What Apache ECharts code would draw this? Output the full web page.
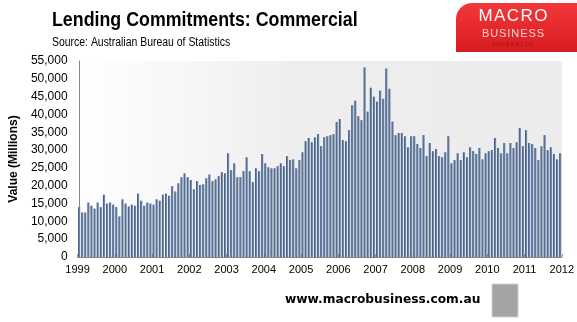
<!DOCTYPE html>
<html><head><meta charset="utf-8">
<script src="https://cdn.jsdelivr.net/npm/echarts@6/dist/echarts.min.js"></script>
<style>html,body{margin:0;padding:0;background:#fff}#c{width:577px;height:322px}</style>
</head><body><div id="c"></div>
<script>
// Year tick labels shown under the axis
const yearLabels = ['1999','2000','2001','2002','2003','2004','2005','2006','2007','2008','2009','2010','2011','2012'];
const monthNames = ['Jan','Feb','Mar','Apr','May','Jun','Jul','Aug','Sep','Oct','Nov','Dec'];
// Monthly categories Jan 1999 - Dec 2011
const categories = [];
for (let y = 0; y < 13; y++) for (let m = 0; m < 12; m++) categories.push(monthNames[m] + ' ' + yearLabels[y]);

// Lending commitments, commercial ($ millions)
const values1999 = [14000,12500,12500,15300,14400,13600,15300,14000,17500,15000,15300,14700];
const values2000 = [14000,11400,16200,15000,14200,14700,14400,17800,15800,14400,15300,15000];
const values2001 = [14700,16200,15800,17500,17800,17200,19900,18400,20700,22400,23500,22400];
const values2002 = [21600,19000,21300,20200,20400,22100,23200,21300,21800,22700,23800,23500];
const values2003 = [29100,24400,26300,22400,22400,24100,28000,24100,21000,24900,24100,28900];
const values2004 = [26300,25200,24900,24900,25500,26300,25500,28300,27200,27400,24900,27200];
const values2005 = [29400,32500,33400,32200,33600,34500,31100,33600,33900,34200,34500,37900];
const values2006 = [38700,32800,32500,35600,42600,43900,39500,38400,53200,40800,47500,45000];
const values2007 = [43600,46700,44400,52900,47200,38000,34200,34800,34800,33900,30800,33900];
const values2008 = [33900,31700,30600,34200,28300,32000,29700,30300,28300,28000,29400,33900];
const values2009 = [26300,27200,29100,27200,29400,28000,30800,29700,28900,30600,27400,29100];
const values2010 = [29700,30000,33400,30600,29100,32000,29100,32000,30600,32200,36200,31100];
const values2011 = [35600,32000,31700,30600,27200,31100,34200,30000,30800,28900,27400,29100];
const values = [].concat(values1999,values2000,values2001,values2002,values2003,values2004,values2005,
  values2006,values2007,values2008,values2009,values2010,values2011);

const chart = echarts.init(document.getElementById('c'), null, {renderer:'canvas'});
const grey = '#868686';
const HS = '\u200A';
chart.setOption({
  animation:false,
  grid:{left:73,right:11,top:61,bottom:65,show:true,borderWidth:0,
    backgroundColor:new echarts.graphic.LinearGradient(0,0,1,0,[
      {offset:0,color:'#ffffff'},{offset:0.45,color:'#eeeeee'},{offset:1,color:'#ececec'}])},
  xAxis:[{
    type:'category',data:categories,
    axisLine:{lineStyle:{color:grey,width:1}},
    axisTick:{show:true,inside:true,length:3,interval:function(i){return i%12===0;},lineStyle:{color:'#999'}},
    axisLabel:{show:false}
  },{
    type:'value',position:'bottom',min:-0.5,max:categories.length-0.5,interval:12,
    axisLine:{show:false},axisTick:{show:false},splitLine:{show:false},
    axisLabel:{show:true,showMinLabel:true,showMaxLabel:true,margin:7,color:'#000',
      fontFamily:'Liberation Sans',fontSize:11,
      formatter:function(v){return yearLabels[Math.round((v+0.5)/12)]||'';}}
  }],
  yAxis:{
    type:'value',min:0,max:55000,interval:5000,
    axisLine:{show:true,lineStyle:{color:grey}},
    axisTick:{show:false},splitLine:{show:false},
    axisLabel:{margin:10,color:'#000',fontFamily:'Liberation Sans',fontSize:12,
      formatter:function(v){return v.toLocaleString('en-US');}},
    name:'Value (Millions)',nameLocation:'middle',nameRotate:90,nameGap:55,
    nameTextStyle:{fontFamily:'Liberation Sans',fontWeight:'bold',fontSize:12,color:'#000'}
  },
  series:[{
    type:'bar',data:values,xAxisIndex:0,barCategoryGap:'30%',
    itemStyle:{color:new echarts.graphic.LinearGradient(0,0,1,0,[
      {offset:0,color:'#2c5189'},{offset:1,color:'#8e9aab'}])}
  }],
  graphic:[
    {type:'text',x:52,y:10,scaleX:0.89,style:{text:'Lending Commitments: Commercial',
      font:'bold 20px "Liberation Sans", sans-serif',fill:'#000',textAlign:'left',textVerticalAlign:'top'}},
    {type:'text',x:52,y:37,scaleX:0.87,style:{text:'Source: Australian Bureau of Statistics',
      font:'12px "Liberation Sans", sans-serif',fill:'#000',textAlign:'left',textVerticalAlign:'top'}},
    {type:'rect',x:456,y:3,shape:{width:121,height:49,r:[16,0,0,0]},
      style:{fill:new echarts.graphic.LinearGradient(0,0,0,1,[
        {offset:0,color:'#f2383a'},{offset:1,color:'#d71c22'}])}},
    {type:'text',x:513,y:8,style:{text:['M','A','C','R','O'].join(HS),font:'17px "Liberation Sans", sans-serif',
      fill:'#ffffff',textAlign:'center',textVerticalAlign:'top'}},
    {type:'text',x:513,y:28,style:{text:['B','U','S','I','N','E','S','S'].join(HS),font:'11px "Liberation Sans", sans-serif',
      fill:'#fbd0d0',textAlign:'center',textVerticalAlign:'top'}},
    {type:'text',x:513,y:42,style:{text:['S','U','P','E','R','B','L','O','G'].join(' '),font:'5px "Liberation Sans", sans-serif',
      fill:'#a01015',textAlign:'center',textVerticalAlign:'top'}},
    {type:'text',x:285,y:293,scaleX:0.94,style:{text:'www.macrobusiness.com.au',
      font:'bold 13px "DejaVu Sans", sans-serif',fill:'#000',textAlign:'left',textVerticalAlign:'top'}},
    {type:'rect',x:492,y:284,shape:{width:26,height:33},
      style:{fill:'#a4a4a4',stroke:'#d0d0d0',lineWidth:1}}
  ]
});
</script></body></html>
